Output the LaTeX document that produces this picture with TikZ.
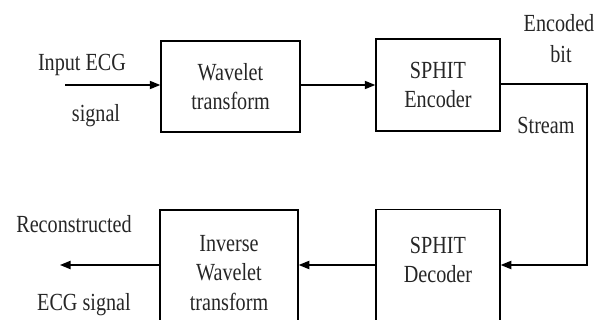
\documentclass[tikz,border=0pt]{standalone}
\usepackage{fontspec}
\setmainfont[FakeStretch=0.82]{Liberation Serif}
\usetikzlibrary{arrows.meta}
\tikzstyle{block}=[draw, line width=1.2pt, align=center, inner sep=0pt]
\tikzstyle{line}=[line width=1.2pt, -{Triangle[length=9pt, width=7pt]}]
\tikzstyle{txt}=[align=center, inner sep=0pt]

\begin{document}
\begin{tikzpicture}[x=0.03cm, y=-0.03cm, font=\fontsize{21}{25}\selectfont, text=black!85]
  \useasboundingbox (0,0) rectangle (603,320);
  \clip (0,0) rectangle (603,320);

  % top row
  \node[block, minimum width=4.17cm, minimum height=2.73cm] (wt) at (230.5,86.5) {Wavelet\\transform};
  \node[block, minimum width=3.72cm, minimum height=2.76cm] (enc) at (438,85) {SPHIT\\Encoder};
  % bottom row, cut off at the lower edge
  \node[block, minimum width=3.72cm, minimum height=3.39cm] (dec) at (438,266) {};
  \node[block, minimum width=4.14cm, minimum height=3.39cm] (iwt) at (229,266.5) {};
  \node[txt] (dectxt) at (438,260) {SPHIT\\Decoder};
  \node[txt] (iwttxt) at (229,273) {Inverse\\Wavelet\\transform};

  \node[txt] (in1) at (82,65) {Input ECG};
  \node[txt] (in2) at (96,116) {signal};
  \node[txt] (bs1) at (559,23) {Encoded};
  \node[txt] (bs2) at (561,54) {bit};
  \node[txt] (bs3) at (546,125) {Stream};
  \node[txt] (out1) at (74,224) {Reconstructed};
  \node[txt] (out2) at (84,305) {ECG signal};

  \coordinate (src) at (65,85);
  \coordinate (sink) at (60,265);
  \coordinate (c1) at (587,84);
  \coordinate (c2) at (587,265);

  \draw[line] (src) -- (wt.west |- src);
  \draw[line] (wt.east |- src) -- (enc.west |- src);
  \draw[line] (enc.east |- c1) -- (c1) -- (c2) -- (dec.east |- c2);
  \draw[line] (dec.west |- c2) -- (iwt.east |- c2);
  \draw[line] (iwt.west |- sink) -- (sink);
\end{tikzpicture}
\end{document}
